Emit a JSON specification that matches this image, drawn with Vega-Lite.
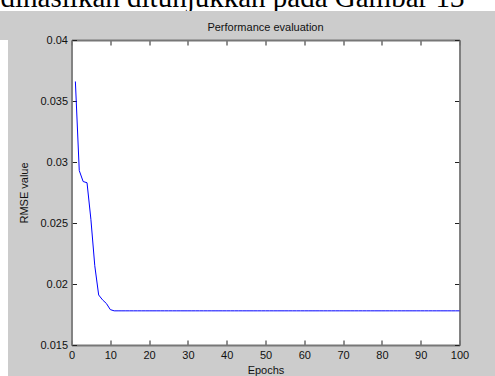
{
  "$schema": "https://vega.github.io/schema/vega-lite/v6.json",
  "background": "#cccccc",
  "padding": 0,
  "spacing": 11,
  "datasets": {
    "caption": [{"caption": "dihasilkan ditunjukkan pada Gambar 13"}],
    "rmse": [
      {"epoch": 1, "rmse": 0.0366}, {"epoch": 2, "rmse": 0.0293}, {"epoch": 3, "rmse": 0.0284}, {"epoch": 4, "rmse": 0.0283},
      {"epoch": 5, "rmse": 0.0253}, {"epoch": 6, "rmse": 0.0215}, {"epoch": 7, "rmse": 0.0191}, {"epoch": 8, "rmse": 0.0187},
      {"epoch": 9, "rmse": 0.0184}, {"epoch": 10, "rmse": 0.0179}, {"epoch": 11, "rmse": 0.0178}, {"epoch": 12, "rmse": 0.0178},
      {"epoch": 13, "rmse": 0.0178}, {"epoch": 14, "rmse": 0.0178}, {"epoch": 15, "rmse": 0.0178}, {"epoch": 16, "rmse": 0.0178},
      {"epoch": 17, "rmse": 0.0178}, {"epoch": 18, "rmse": 0.0178}, {"epoch": 19, "rmse": 0.0178}, {"epoch": 20, "rmse": 0.0178},
      {"epoch": 21, "rmse": 0.0178}, {"epoch": 22, "rmse": 0.0178}, {"epoch": 23, "rmse": 0.0178}, {"epoch": 24, "rmse": 0.0178},
      {"epoch": 25, "rmse": 0.0178}, {"epoch": 26, "rmse": 0.0178}, {"epoch": 27, "rmse": 0.0178}, {"epoch": 28, "rmse": 0.0178},
      {"epoch": 29, "rmse": 0.0178}, {"epoch": 30, "rmse": 0.0178}, {"epoch": 31, "rmse": 0.0178}, {"epoch": 32, "rmse": 0.0178},
      {"epoch": 33, "rmse": 0.0178}, {"epoch": 34, "rmse": 0.0178}, {"epoch": 35, "rmse": 0.0178}, {"epoch": 36, "rmse": 0.0178},
      {"epoch": 37, "rmse": 0.0178}, {"epoch": 38, "rmse": 0.0178}, {"epoch": 39, "rmse": 0.0178}, {"epoch": 40, "rmse": 0.0178},
      {"epoch": 41, "rmse": 0.0178}, {"epoch": 42, "rmse": 0.0178}, {"epoch": 43, "rmse": 0.0178}, {"epoch": 44, "rmse": 0.0178},
      {"epoch": 45, "rmse": 0.0178}, {"epoch": 46, "rmse": 0.0178}, {"epoch": 47, "rmse": 0.0178}, {"epoch": 48, "rmse": 0.0178},
      {"epoch": 49, "rmse": 0.0178}, {"epoch": 50, "rmse": 0.0178}, {"epoch": 51, "rmse": 0.0178}, {"epoch": 52, "rmse": 0.0178},
      {"epoch": 53, "rmse": 0.0178}, {"epoch": 54, "rmse": 0.0178}, {"epoch": 55, "rmse": 0.0178}, {"epoch": 56, "rmse": 0.0178},
      {"epoch": 57, "rmse": 0.0178}, {"epoch": 58, "rmse": 0.0178}, {"epoch": 59, "rmse": 0.0178}, {"epoch": 60, "rmse": 0.0178},
      {"epoch": 61, "rmse": 0.0178}, {"epoch": 62, "rmse": 0.0178}, {"epoch": 63, "rmse": 0.0178}, {"epoch": 64, "rmse": 0.0178},
      {"epoch": 65, "rmse": 0.0178}, {"epoch": 66, "rmse": 0.0178}, {"epoch": 67, "rmse": 0.0178}, {"epoch": 68, "rmse": 0.0178},
      {"epoch": 69, "rmse": 0.0178}, {"epoch": 70, "rmse": 0.0178}, {"epoch": 71, "rmse": 0.0178}, {"epoch": 72, "rmse": 0.0178},
      {"epoch": 73, "rmse": 0.0178}, {"epoch": 74, "rmse": 0.0178}, {"epoch": 75, "rmse": 0.0178}, {"epoch": 76, "rmse": 0.0178},
      {"epoch": 77, "rmse": 0.0178}, {"epoch": 78, "rmse": 0.0178}, {"epoch": 79, "rmse": 0.0178}, {"epoch": 80, "rmse": 0.0178},
      {"epoch": 81, "rmse": 0.0178}, {"epoch": 82, "rmse": 0.0178}, {"epoch": 83, "rmse": 0.0178}, {"epoch": 84, "rmse": 0.0178},
      {"epoch": 85, "rmse": 0.0178}, {"epoch": 86, "rmse": 0.0178}, {"epoch": 87, "rmse": 0.0178}, {"epoch": 88, "rmse": 0.0178},
      {"epoch": 89, "rmse": 0.0178}, {"epoch": 90, "rmse": 0.0178}, {"epoch": 91, "rmse": 0.0178}, {"epoch": 92, "rmse": 0.0178},
      {"epoch": 93, "rmse": 0.0178}, {"epoch": 94, "rmse": 0.0178}, {"epoch": 95, "rmse": 0.0178}, {"epoch": 96, "rmse": 0.0178},
      {"epoch": 97, "rmse": 0.0178}, {"epoch": 98, "rmse": 0.0178}, {"epoch": 99, "rmse": 0.0178}, {"epoch": 100, "rmse": 0.0178}
    ]
  },
  "config": {
    "font": "Liberation Sans",
    "axis": {
      "grid": false,
      "domainColor": "#777777",
      "domainWidth": 1.8,
      "tickColor": "#222222",
      "tickSize": -5,
      "tickWidth": 1,
      "labelPadding": 9,
      "labelFont": "Liberation Sans",
      "labelFontSize": 11,
      "labelColor": "#111111",
      "labelFlush": false,
      "labelOverlap": false,
      "titleFont": "Liberation Sans",
      "titleFontSize": 11,
      "titleFontWeight": "normal",
      "titleColor": "#111111"
    }
  },
  "vconcat": [
    {
      "width": 495,
      "height": 11,
      "view": {"fill": "white", "stroke": null},
      "data": {"name": "caption"},
      "mark": {"type": "text", "clip": true, "font": "Liberation Serif", "fontSize": 29, "color": "black", "baseline": "alphabetic", "align": "center", "dx": -15, "dy": 1.5},
      "encoding": {"text": {"field": "caption", "type": "nominal"}}
    },
    {
      "spacing": 10.5,
      "align": "none",
      "hconcat": [
        {
          "width": 8,
          "height": 365,
          "view": {"fill": "white", "stroke": null},
          "data": {"name": "caption"},
          "mark": {"type": "text", "opacity": 0},
          "encoding": {"text": {"value": ""}}
        },
        {
          "width": 388,
          "height": 305,
          "view": {"fill": "white", "stroke": null},
          "title": {"text": "Performance evaluation", "font": "Liberation Sans", "fontSize": 11, "fontWeight": "normal", "color": "#111111", "offset": 1, "anchor": "middle"},
          "data": {"name": "rmse"},
          "layer": [
            {
              "mark": {"type": "line", "color": "#0000ff", "strokeWidth": 1},
              "encoding": {
                "x": {"field": "epoch", "type": "quantitative", "scale": {"domain": [0, 100], "nice": false, "zero": false},
                      "axis": {"orient": "bottom", "values": [0, 10, 20, 30, 40, 50, 60, 70, 80, 90, 100], "format": "d", "title": "Epochs", "titlePadding": 4}},
                "y": {"field": "rmse", "type": "quantitative", "scale": {"domain": [0.015, 0.04], "nice": false, "zero": false},
                      "axis": {"orient": "left", "values": [0.015, 0.02, 0.025, 0.03, 0.035, 0.04], "format": "~g", "title": "RMSE value", "titlePadding": 10}}
              }
            },
            {
              "mark": {"type": "line", "opacity": 0},
              "encoding": {
                "x": {"field": "epoch", "type": "quantitative", "scale": {"domain": [0, 100], "nice": false, "zero": false},
                      "axis": {"orient": "top", "values": [0, 10, 20, 30, 40, 50, 60, 70, 80, 90, 100], "labels": false, "title": null}},
                "y": {"field": "rmse", "type": "quantitative", "scale": {"domain": [0.015, 0.04], "nice": false, "zero": false},
                      "axis": {"orient": "right", "values": [0.015, 0.02, 0.025, 0.03, 0.035, 0.04], "labels": false, "title": null}}
              }
            }
          ],
          "resolve": {"axis": {"x": "independent", "y": "independent"}}
        }
      ]
    }
  ]
}
